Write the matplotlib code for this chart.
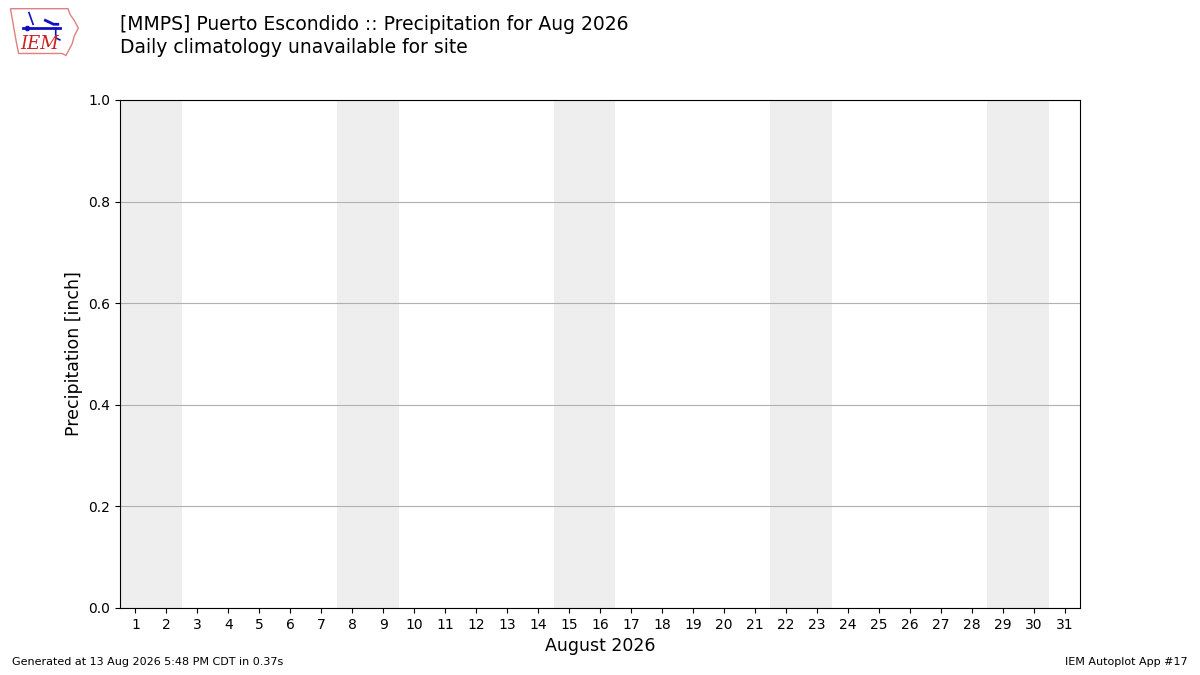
import matplotlib
matplotlib.use("Agg")
import matplotlib.pyplot as plt
from matplotlib.patches import Polygon

# data
days = list(range(1, 32))
day_labels = [str(d) for d in days]
weekend_starts = [1, 8, 15, 22, 29]  # Saturdays in Aug 2026
yticks = [0.0, 0.2, 0.4, 0.6, 0.8, 1.0]

title = "[MMPS] Puerto Escondido :: Precipitation for Aug 2026\nDaily climatology unavailable for site"

fig = plt.figure(figsize=(12, 6.75), dpi=100)
ax = fig.add_axes([0.1, 0.0993, 0.8, 0.7526])

for d in weekend_starts:
    ax.axvspan(d - 0.5, min(d + 1.5, 31.5), color="#eeeeee", zorder=0, lw=0)

ax.set_xlim(0.5, 31.5)
ax.set_ylim(0, 1)
ax.set_xticks(days)
ax.set_xticklabels(day_labels)
ax.set_yticks(yticks)
ax.grid(axis="y", color="#b0b0b0", lw=0.8)
ax.set_axisbelow(True)
ax.tick_params(labelsize=10)
ax.set_xlabel("August 2026", fontsize=12.5)
ax.set_ylabel("Precipitation [inch]", fontsize=12.5)

fig.text(0.1, 0.978, title, fontsize=13.5, va="top", ha="left", linespacing=1.3)

# footer
fig.text(0.01, 0.015, "Generated at 13 Aug 2026 5:48 PM CDT in 0.37s", fontsize=8)
fig.text(0.99, 0.015, "IEM Autoplot App #17", fontsize=8, ha="right")

# rough logo
lax = fig.add_axes([0.007, 0.915, 0.06, 0.075])
lax.set_xlim(0, 70)
lax.set_ylim(0, 52)
lax.axis("off")
iowa = [(2, 50), (58, 50), (60, 44), (64, 38), (68, 30), (64, 22), (62, 14),
        (58, 6), (56, 2), (52, 4), (10, 4), (8, 14), (6, 26), (4, 38)]
lax.add_patch(Polygon(iowa, closed=True, fill=False, ec="#e08080", lw=1))
lax.plot([14, 50], [30, 30], color="#1010c0", lw=2)
lax.plot([20, 24], [46, 34], color="#1010c0", lw=1.2)
lax.plot([36, 44, 48], [38, 34, 34], color="#1010c0", lw=2)
lax.plot([46, 46, 50], [30, 20, 18], color="#1010c0", lw=1.2)
lax.plot(18, 30, "o", color="#1010c0", ms=3)
lax.text(12, 14, "IEM", color="#cc2020", fontsize=13, family="DejaVu Serif",
         style="italic", va="center")

fig.savefig("out.png", dpi=100)
